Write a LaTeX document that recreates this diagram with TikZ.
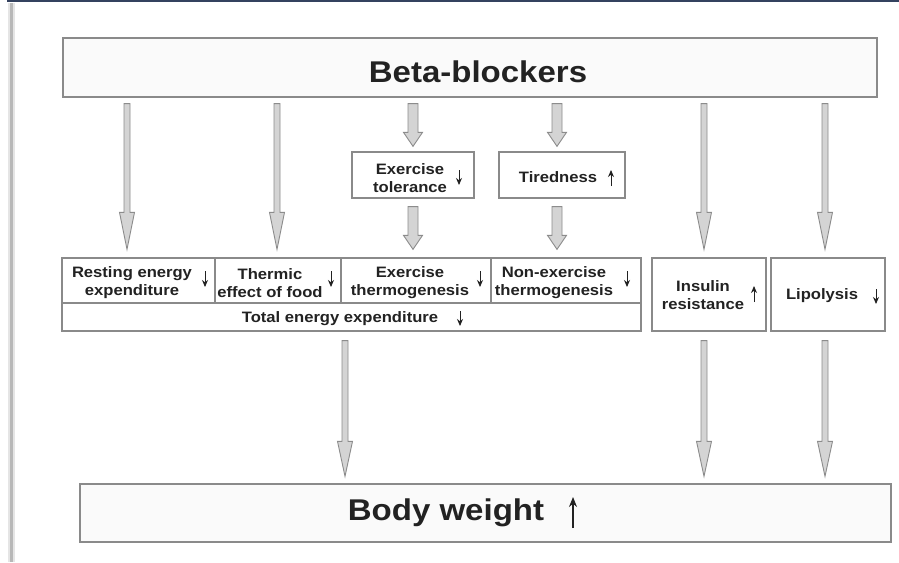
\documentclass[tikz,border=0pt]{standalone}
\usepackage{fontspec}
\setmainfont[FakeStretch=1.1]{Liberation Sans}
\usetikzlibrary{arrows.meta,calc}
\definecolor{boxline}{HTML}{8A8A8A}
\definecolor{arrfill}{HTML}{D4D4D4}
\definecolor{arrline}{HTML}{8C8C8C}
\definecolor{txt}{HTML}{222222}
\definecolor{navy}{HTML}{34425F}
\newcommand\fatarrow[8]{% x, from, to, gap top, gap bottom, shaft half, head half, head length
  \filldraw[bigarr] let \p1=(#2.south), \p2=(#3.north) in
    (#1pt-#6pt, \y1-#4pt) -- (#1pt+#6pt, \y1-#4pt) -- (#1pt+#6pt, \y2+#5pt+#8pt)
    -- (#1pt+#7pt, \y2+#5pt+#8pt) -- (#1pt, \y2+#5pt) -- (#1pt-#7pt, \y2+#5pt+#8pt)
    -- (#1pt-#6pt, \y2+#5pt+#8pt) -- cycle;}
\begin{document}
\begin{tikzpicture}[x=1pt,y=-1pt,
  box/.style={draw=boxline, line width=1.3pt, fill=white, rectangle, inner sep=0pt},
  bigbox/.style={box, fill=black!2},
  lbl/.style={text=txt, font=\bfseries\fontsize{15.1}{18}\selectfont, align=center, inner sep=0pt},
  biglbl/.style={text=txt, font=\bfseries\fontsize{30}{34}\selectfont, inner sep=0pt},
  bigarr/.style={fill=arrfill, draw=arrline, line width=0.9pt, line join=miter},
  sarr/.style={draw=txt, line width=0.9pt, -{Stealth[length=7pt,width=6pt]}},
  barr/.style={draw=txt, line width=1.2pt, -{Stealth[length=10pt,width=8pt]}}]
\useasboundingbox (0,0) rectangle (899,562);
\fill[white] (0,0) rectangle (899,562);
% frame
\fill[black!10] (8,3) rectangle (15,562);
\fill[black!28] (10,3) rectangle (12.5,562);
\draw[navy, line width=2.5pt] (7,1.2) -- (899,1.2);
% boxes
\node[bigbox, minimum width=814pt, minimum height=59pt] (beta) at (470,67.5) {};
\node[box, minimum width=122pt, minimum height=46pt] (extol) at (413,175) {};
\node[box, minimum width=126pt, minimum height=46pt] (tired) at (562,175) {};
\node[box, minimum width=153pt, minimum height=45pt] (rest) at (138.5,280.5) {};
\node[box, minimum width=126pt, minimum height=45pt] (therm) at (278,280.5) {};
\node[box, minimum width=150pt, minimum height=45pt] (exth) at (416,280.5) {};
\node[box, minimum width=150pt, minimum height=45pt] (nonex) at (566,280.5) {};
\node[box, minimum width=579pt, minimum height=28pt] (total) at (351.5,317) {};
\node[box, minimum width=114pt, minimum height=73pt] (insulin) at (709,294.5) {};
\node[box, minimum width=114pt, minimum height=73pt] (lipo) at (828,294.5) {};
\node[bigbox, minimum width=811pt, minimum height=58pt] (body) at (485.5,513) {};
% labels
\node[biglbl] (tbeta) at (478,72) {Beta-blockers};
\node[lbl] (textol) at (410,178) {Exercise\\tolerance};
\node[lbl] (ttired) at (558,177) {Tiredness};
\node[lbl] (trest) at (132,283) {Resting energy\\expenditure};
\node[lbl] (ttherm) at (270,283) {Thermic\\effect of food};
\node[lbl] (texth) at (410,283) {Exercise\\thermogenesis};
\node[lbl] (tnonex) at (554,283) {Non-exercise\\thermogenesis};
\node[lbl] (ttotal) at (340,319) {Total energy expenditure};
\node[lbl] (tinsulin) at (703,295) {Insulin\\resistance};
\node[lbl] (tlipo) at (822,296) {Lipolysis};
\node[biglbl] (tbody) at (446,513) {Body weight};
% small direction arrows
\draw[sarr] (205,271) -- (205,287);
\draw[sarr] (331,271) -- (331,287);
\draw[sarr] (480,271) -- (480,287);
\draw[sarr] (627,271) -- (627,287);
\draw[sarr] (460,311) -- (460,326);
\draw[sarr] (459,170) -- (459,185);
\draw[sarr] (611,186) -- (611,170);
\draw[sarr] (754,302) -- (754,286);
\draw[sarr] (876,289) -- (876,304);
\draw[barr] (573,528) -- (573,497);
% big arrows
\fatarrow{127}{beta}{rest}{6}{8}{3}{7.5}{37}
\fatarrow{277}{beta}{therm}{6}{8}{3}{7.5}{37}
\fatarrow{704}{beta}{insulin}{6}{8}{3}{7.5}{37}
\fatarrow{825}{beta}{lipo}{6}{8}{3}{7.5}{37}
\fatarrow{413}{beta}{extol}{6}{5}{5}{9.5}{14}
\fatarrow{557}{beta}{tired}{6}{5}{5}{9.5}{14}
\fatarrow{413}{extol}{exth}{8}{8}{5}{9.5}{14}
\fatarrow{557}{tired}{nonex}{8}{8}{5}{9.5}{14}
\fatarrow{345}{total}{body}{9}{7}{3}{7.5}{35}
\fatarrow{704}{insulin}{body}{9}{7}{3}{7.5}{35}
\fatarrow{825}{lipo}{body}{9}{7}{3}{7.5}{35}
\end{tikzpicture}
\end{document}
